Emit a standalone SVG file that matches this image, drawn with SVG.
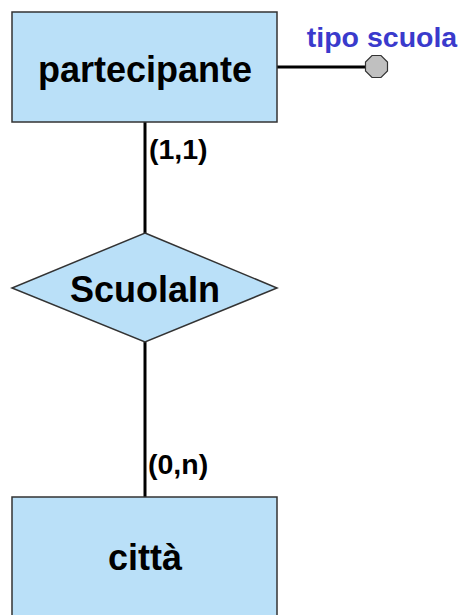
<svg xmlns="http://www.w3.org/2000/svg" width="461" height="615" viewBox="0 0 461 615">
<style>
.ent{fill:#bae0f8;stroke:#333;stroke-width:1.5}
.lbl{font-family:"Liberation Sans",Arial,sans-serif;font-weight:bold;fill:#000;text-anchor:middle}
.card{font-family:"Liberation Sans",Arial,sans-serif;font-weight:bold;fill:#000;font-size:28.5px}
.conn{stroke:#000;stroke-width:3;fill:none}
</style>
<rect width="461" height="615" fill="#fff"/>
<g id="connectors">
<line class="conn" x1="145" y1="122" x2="145" y2="233"/>
<line class="conn" x1="145" y1="342" x2="145" y2="497"/>
<line class="conn" x1="277" y1="67" x2="366" y2="67"/>
</g>
<g id="partecipante">
<rect class="ent" x="12" y="12" width="265" height="110"/>
<text class="lbl" x="145" y="82" font-size="36">partecipante</text>
</g>
<g id="attr-tipo-scuola">
<polygon points="372,55.5 381,55.5 387.5,62 387.5,71 381,77.5 372,77.5 365.5,71 365.5,62" fill="#c0c0c0" stroke="#333" stroke-width="1.2"/>
<text x="382" y="47" font-family="Liberation Sans,Arial,sans-serif" font-weight="bold" font-size="28.5" fill="#3a3acc" text-anchor="middle">tipo scuola</text>
</g>
<g id="ScuolaIn">
<polygon class="ent" points="145,233 277,288 145,342 12,288"/>
<text class="lbl" x="145" y="302" font-size="36">ScuolaIn</text>
</g>
<g id="citta">
<rect class="ent" x="12" y="497" width="265" height="130"/>
<text class="lbl" x="145" y="570" font-size="36">città</text>
</g>
<g id="cardinalities">
<text class="card" x="149" y="159">(1,1)</text>
<text class="card" x="148" y="474">(0,n)</text>
</g>
</svg>
